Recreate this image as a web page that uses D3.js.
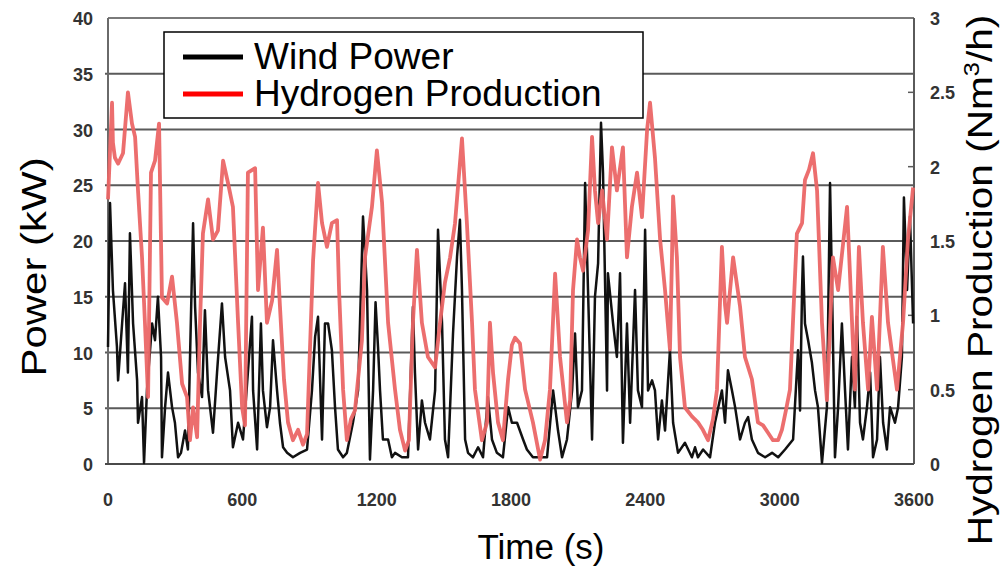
<!DOCTYPE html>
<html>
<head>
<meta charset="utf-8">
<script src="https://cdn.jsdelivr.net/npm/d3@7"></script>
<style>
  html, body { margin: 0; padding: 0; background: #fff; }
  svg { display: block; font-family: "Liberation Sans", Arial, sans-serif; }
  .tick-label { font-weight: bold; font-size: 18px; fill: #333; }
  .title { font-size: 35px; fill: #000; }
  .legend-text { font-size: 37px; fill: #000; }
</style>
</head>
<body>
<svg id="chart" width="1003" height="571"></svg>
<script>
// time (s) and wind power (kW)
const windTime = [0, 9, 22, 40, 45, 63, 76, 89, 98, 112, 130, 134, 152, 161, 174, 197, 210, 223, 237, 241,
  255, 268, 286, 299, 313, 326, 344, 357, 380, 389, 402, 420, 433, 447, 469, 487, 509, 523, 545, 558,
  581, 603, 643, 648, 666, 683, 692, 710, 724, 737, 755, 768, 782, 800, 826, 858, 889, 911, 925, 938,
  956, 969, 983, 1000, 1014, 1027, 1050, 1067, 1094, 1117, 1139, 1157, 1170, 1184, 1195, 1206, 1215, 1228, 1251, 1268,
  1282, 1313, 1340, 1362, 1371, 1385, 1402, 1416, 1438, 1461, 1474, 1492, 1505, 1519, 1541, 1559, 1572, 1581, 1595, 1608,
  1630, 1653, 1675, 1697, 1715, 1737, 1764, 1787, 1804, 1827, 1854, 1871, 1898, 1930, 1961, 1988, 2010, 2028, 2050, 2073,
  2086, 2099, 2117, 2131, 2144, 2162, 2175, 2189, 2202, 2211, 2229, 2233, 2256, 2273, 2287, 2300, 2318, 2332, 2354, 2367,
  2385, 2399, 2412, 2430, 2443, 2457, 2474, 2488, 2501, 2510, 2524, 2546, 2577, 2608, 2622, 2635, 2658, 2689, 2711, 2742,
  2756, 2769, 2787, 2801, 2823, 2845, 2859, 2876, 2903, 2935, 2966, 2993, 3024, 3060, 3082, 3091, 3100, 3104, 3113, 3127,
  3144, 3158, 3171, 3189, 3211, 3225, 3234, 3247, 3261, 3278, 3292, 3305, 3323, 3336, 3345, 3359, 3372, 3390, 3404, 3417,
  3435, 3448, 3462, 3479, 3493, 3515, 3529, 3546, 3555, 3569, 3582, 3596];
const windPower = [10.5, 23.4, 15.6, 10.5, 7.5, 12.6, 16.2, 8.2, 20.7, 12.6, 7.5, 3.7, 6.0, 0.1, 6.6, 12.6, 11.1, 15.0, 9.6, 0.6,
  5.1, 8.2, 5.1, 3.7, 0.6, 1.0, 3.0, 1.3, 21.6, 14.1, 8.2, 6.0, 13.8, 6.6, 2.8, 8.2, 14.4, 9.6, 6.6, 1.5,
  3.7, 2.2, 13.2, 6.6, 1.3, 12.6, 6.6, 3.3, 5.1, 11.1, 6.6, 3.7, 1.5, 1.0, 0.6, 1.0, 1.3, 6.6, 11.4, 13.2,
  2.2, 12.6, 12.6, 10.2, 5.1, 1.3, 0.6, 1.0, 3.7, 6.6, 22.2, 15.6, 0.4, 6.6, 14.5, 10.5, 6.6, 2.2, 2.2, 0.6,
  1.0, 0.6, 0.6, 14.1, 8.2, 1.3, 5.7, 3.7, 2.2, 6.6, 21.0, 12.6, 2.2, 0.6, 11.7, 18.6, 21.9, 15.6, 2.2, 1.0,
  0.6, 1.5, 0.6, 6.0, 2.2, 1.0, 0.6, 5.1, 3.7, 3.7, 2.2, 1.3, 0.6, 0.6, 0.6, 6.6, 3.0, 0.6, 2.2, 6.6,
  11.7, 5.1, 6.6, 25.2, 15.6, 2.2, 15.0, 18.0, 30.6, 26.1, 6.6, 17.1, 12.6, 9.6, 17.1, 1.9, 12.6, 3.7, 15.6, 6.6,
  5.1, 21.0, 6.6, 7.5, 6.6, 2.2, 5.7, 3.0, 7.3, 10.2, 3.7, 1.0, 1.9, 0.6, 1.5, 0.6, 1.3, 0.6, 3.7, 6.6,
  3.7, 8.4, 6.6, 5.1, 2.2, 3.7, 4.2, 2.2, 1.0, 0.6, 1.0, 0.6, 1.3, 2.2, 10.2, 4.8, 15.6, 18.6, 12.6, 11.1,
  9.1, 6.6, 5.1, 0.1, 5.1, 25.2, 15.6, 0.6, 5.1, 12.6, 6.6, 1.3, 9.6, 5.1, 13.2, 3.7, 2.2, 5.1, 8.2, 0.6,
  2.2, 9.6, 3.7, 1.3, 5.1, 3.7, 5.1, 9.6, 23.9, 15.6, 22.2, 12.6];

// time (s) and hydrogen production (Nm3/h)
const h2Time = [0, 18, 22, 31, 45, 67, 89, 107, 121, 134, 152, 165, 179, 192, 210, 228, 241, 264, 286, 308,
  331, 353, 366, 380, 398, 411, 424, 447, 469, 491, 514, 536, 558, 581, 599, 612, 625, 657, 670, 692,
  710, 733, 755, 768, 786, 804, 826, 849, 871, 889, 902, 916, 938, 956, 978, 1000, 1023, 1032, 1050, 1067,
  1085, 1103, 1134, 1148, 1179, 1201, 1224, 1251, 1282, 1304, 1327, 1344, 1362, 1380, 1402, 1429, 1461, 1483, 1505, 1528,
  1550, 1581, 1603, 1626, 1639, 1670, 1693, 1706, 1720, 1742, 1764, 1787, 1804, 1818, 1840, 1863, 1898, 1930, 1952, 1974,
  1997, 2019, 2050, 2064, 2077, 2095, 2108, 2122, 2144, 2162, 2175, 2189, 2207, 2229, 2251, 2273, 2300, 2318, 2340, 2363,
  2385, 2408, 2421, 2443, 2466, 2488, 2510, 2519, 2524, 2541, 2555, 2577, 2608, 2635, 2657, 2680, 2702, 2720, 2742, 2756,
  2765, 2792, 2823, 2845, 2876, 2903, 2926, 2948, 2970, 2993, 3010, 3028, 3046, 3077, 3100, 3113, 3131, 3149, 3167, 3189,
  3211, 3238, 3261, 3301, 3314, 3336, 3354, 3372, 3395, 3412, 3435, 3461, 3484, 3524, 3551, 3573, 3596];
const h2Rate = [1.78, 2.43, 2.16, 2.06, 2.02, 2.09, 2.50, 2.29, 2.20, 1.84, 1.39, 0.95, 0.45, 1.96, 2.04, 2.29, 1.12, 1.08, 1.26, 0.95,
  0.54, 0.45, 0.16, 0.38, 0.18, 0.95, 1.55, 1.78, 1.51, 1.57, 2.04, 1.89, 1.73, 0.95, 0.38, 0.26, 1.96, 1.99, 1.17, 1.59,
  0.95, 1.10, 1.44, 1.06, 0.57, 0.28, 0.16, 0.23, 0.13, 0.20, 0.77, 1.37, 1.89, 1.62, 1.46, 1.62, 1.64, 1.17, 0.50, 0.16,
  0.30, 0.36, 0.83, 1.39, 1.73, 2.11, 1.76, 0.95, 0.50, 0.23, 0.09, 0.16, 0.95, 1.44, 0.95, 0.72, 0.65, 0.95, 1.22, 1.39,
  1.62, 2.19, 1.62, 0.95, 0.50, 0.16, 0.28, 0.95, 0.61, 0.28, 0.16, 0.57, 0.80, 0.85, 0.81, 0.50, 0.28, 0.03, 0.16, 0.50,
  1.28, 0.72, 0.28, 0.43, 1.17, 1.51, 1.39, 1.30, 1.57, 2.20, 1.84, 1.62, 1.84, 1.51, 2.13, 1.84, 2.13, 1.39, 1.73, 1.96,
  1.66, 2.25, 2.43, 2.06, 1.51, 1.17, 0.77, 1.39, 1.80, 1.39, 0.72, 0.38, 0.32, 0.28, 0.23, 0.16, 0.30, 0.50, 1.46, 1.07,
  0.95, 1.39, 1.06, 0.72, 0.57, 0.28, 0.26, 0.21, 0.16, 0.16, 0.23, 0.36, 0.50, 1.55, 1.62, 1.91, 1.98, 2.09, 1.84, 0.95,
  0.43, 1.39, 1.17, 1.73, 1.28, 0.50, 1.46, 0.95, 0.50, 0.99, 0.50, 1.46, 0.95, 0.50, 0.95, 1.51, 1.86];

const xTicks = [0, 600, 1200, 1800, 2400, 3000, 3600];
const yTicks = [0, 5, 10, 15, 20, 25, 30, 35, 40];
const y2Ticks = [0, 0.5, 1, 1.5, 2, 2.5, 3];
const y2Labels = ["0", "0.5", "1", "1.5", "2", "2.5", "3"];
const seriesNames = ["Wind Power", "Hydrogen Production"];
const seriesColors = ["#000000", "#ff0000"];

const plotLeft = 108, plotRight = 914, plotTop = 18, plotBottom = 464;
const svg = d3.select("#chart");

const x = d3.scaleLinear().domain([0, 3600]).range([plotLeft, plotRight]);
const y = d3.scaleLinear().domain([0, 40]).range([plotBottom, plotTop]);
const y2 = d3.scaleLinear().domain([0, 3]).range([plotBottom, plotTop]);

// grid lines
svg.append("g").selectAll("line")
  .data(yTicks.filter(d => d > 0 && d < 40))
  .enter().append("line")
  .attr("x1", plotLeft - 3).attr("x2", plotRight)
  .attr("y1", d => y(d)).attr("y2", d => y(d))
  .attr("stroke", "#5a5a5a").attr("stroke-width", 2);

// frame
svg.append("line").attr("x1", plotLeft).attr("x2", plotRight).attr("y1", plotTop).attr("y2", plotTop)
  .attr("stroke", "#7a7a7a").attr("stroke-width", 2);
svg.append("line").attr("x1", plotLeft).attr("x2", plotLeft).attr("y1", plotTop).attr("y2", plotBottom)
  .attr("stroke", "#6a6a6a").attr("stroke-width", 2);
svg.append("line").attr("x1", plotRight).attr("x2", plotRight).attr("y1", plotTop).attr("y2", plotBottom)
  .attr("stroke", "#5a5a5a").attr("stroke-width", 2);
svg.append("line").attr("x1", plotLeft - 3).attr("x2", plotRight).attr("y1", plotBottom).attr("y2", plotBottom)
  .attr("stroke", "#4a4a4a").attr("stroke-width", 2);

// right axis inner ticks
svg.append("g").selectAll("line")
  .data(y2Ticks.filter(d => d > 0 && d < 3))
  .enter().append("line")
  .attr("x1", plotRight - 6).attr("x2", plotRight)
  .attr("y1", d => y2(d)).attr("y2", d => y2(d))
  .attr("stroke", "#5a5a5a").attr("stroke-width", 1.5);

// series
const windLine = d3.line().x((d, i) => x(windTime[i])).y(d => y(d));
const h2Line = d3.line().x((d, i) => x(h2Time[i])).y(d => y2(d));

svg.append("path").datum(windPower)
  .attr("d", windLine)
  .attr("fill", "none").attr("stroke", "#111").attr("stroke-width", 2.5)
  .attr("stroke-linejoin", "round");

svg.append("path").datum(h2Rate)
  .attr("d", h2Line)
  .attr("fill", "none").attr("stroke", "#eb6666").attr("stroke-width", 3.8)
  .attr("stroke-linejoin", "round").attr("opacity", 0.95);

// tick labels
svg.append("g").selectAll("text")
  .data(yTicks).enter().append("text")
  .attr("class", "tick-label")
  .attr("x", 93).attr("y", d => y(d) + 7)
  .attr("text-anchor", "end")
  .text(d => d);

svg.append("g").selectAll("text")
  .data(y2Ticks).enter().append("text")
  .attr("class", "tick-label")
  .attr("x", 930).attr("y", d => y2(d) + 7)
  .attr("text-anchor", "start")
  .text((d, i) => y2Labels[i]);

svg.append("g").selectAll("text")
  .data(xTicks).enter().append("text")
  .attr("class", "tick-label")
  .attr("x", d => x(d)).attr("y", 506)
  .attr("text-anchor", "middle")
  .text(d => d);

// axis titles
svg.append("text").attr("class", "title")
  .attr("transform", "translate(46,267) rotate(-90) scale(1.2,1)")
  .attr("text-anchor", "middle")
  .text("Power (kW)");

svg.append("text").attr("class", "title")
  .attr("x", 541).attr("y", 559)
  .attr("text-anchor", "middle")
  .text("Time (s)");

const t2 = svg.append("text").attr("class", "title")
  .attr("transform", "translate(992,280) rotate(-90) scale(1.16,1)")
  .attr("text-anchor", "middle");
t2.append("tspan").text("Hydrogen Production (Nm");
t2.append("tspan").attr("dy", -13).attr("font-size", "22px").text("3");
t2.append("tspan").attr("dy", 13).text("/h)");

// legend
const legend = svg.append("g");
legend.append("rect")
  .attr("x", 164).attr("y", 32).attr("width", 479).attr("height", 86)
  .attr("fill", "#fff").attr("stroke", "#000").attr("stroke-width", 1.5);
const rows = legend.selectAll("g.row")
  .data(seriesNames).enter().append("g")
  .attr("class", "row")
  .attr("transform", (d, i) => `translate(0,${i * 37})`);
rows.append("line")
  .attr("x1", 183).attr("x2", 243).attr("y1", 57).attr("y2", 57)
  .attr("stroke", (d, i) => seriesColors[i]).attr("stroke-width", 5);
rows.append("text").attr("class", "legend-text")
  .attr("x", 254).attr("y", 69)
  .text(d => d);
</script>
</body>
</html>
